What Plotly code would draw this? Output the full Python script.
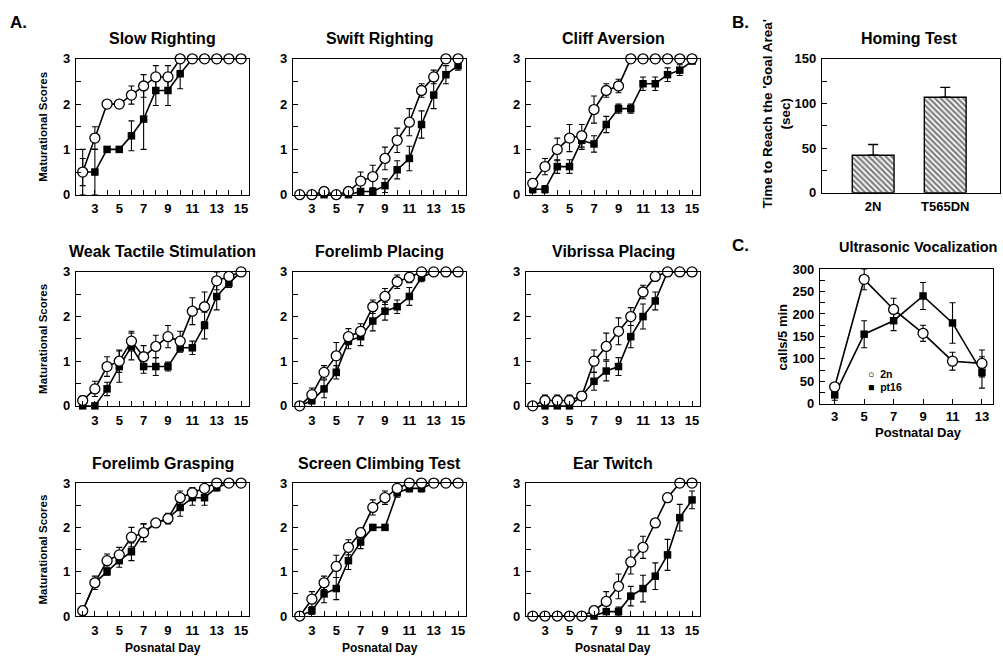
import plotly.graph_objects as go

# ---------------- data ----------------
days = list(range(2, 16))
day_ticks = list(range(2, 16))
day_labels = [str(d) if d % 2 else "" for d in day_ticks]
score_ticks = [0, 0.5, 1, 1.5, 2, 2.5, 3]
score_labels = ["0", "", "1", "", "2", "", "3"]

panel_titles = ["Slow Righting", "Swift Righting", "Cliff Aversion",
                "Weak Tactile Stimulation", "Forelimb Placing", "Vibrissa Placing",
                "Forelimb Grasping", "Screen Climbing Test", "Ear Twitch"]

slow_2n = [0.5, 1.25, 2.0, 2.0, 2.2, 2.4, 2.6, 2.6, 3, 3, 3, 3, 3, 3]
slow_2n_err = [0.3, 0.25, 0, 0, 0.2, 0.25, 0.25, 0.25, 0, 0, 0, 0, 0, 0]
slow_ts = [0.5, 0.5, 1.0, 1.0, 1.3, 1.67, 2.3, 2.3, 2.67, 3, 3, 3, 3, 3]
slow_ts_err = [0.5, 0.5, 0, 0, 0.33, 0.67, 0.33, 0.33, 0.33, 0, 0, 0, 0, 0]

swift_2n = [0, 0, 0.07, 0, 0.07, 0.3, 0.4, 0.8, 1.2, 1.6, 2.3, 2.6, 3.0, 3.0]
swift_2n_err = [0, 0, 0.07, 0, 0.07, 0.2, 0.25, 0.25, 0.27, 0.3, 0.15, 0.15, 0, 0]
swift_ts = [0, 0, 0, 0, 0, 0.07, 0.07, 0.2, 0.55, 0.8, 1.55, 2.2, 2.65, 2.85]
swift_ts_err = [0, 0, 0, 0, 0, 0, 0, 0.15, 0.2, 0.27, 0.3, 0.3, 0.2, 0.1]

cliff_2n = [0.25, 0.62, 1.0, 1.25, 1.3, 1.88, 2.3, 2.4, 3, 3, 3, 3, 3, 3]
cliff_2n_err = [0.1, 0.18, 0.25, 0.3, 0.25, 0.3, 0.15, 0.15, 0, 0, 0, 0, 0, 0]
cliff_ts = [0.12, 0.12, 0.62, 0.62, 1.2, 1.12, 1.55, 1.9, 1.9, 2.45, 2.45, 2.65, 2.75, 2.95]
cliff_ts_err = [0.08, 0.08, 0.15, 0.15, 0.2, 0.18, 0.18, 0.1, 0.1, 0.15, 0.15, 0.15, 0.12, 0.05]

tactile_2n = [0.12, 0.38, 0.88, 1.0, 1.45, 1.1, 1.33, 1.55, 1.45, 2.12, 2.22, 2.8, 2.9, 3.0]
tactile_2n_err = [0.1, 0.17, 0.22, 0.25, 0.22, 0.25, 0.25, 0.25, 0.22, 0.3, 0.33, 0.2, 0.1, 0]
tactile_ts = [0, 0, 0.38, 0.88, 1.33, 0.88, 0.88, 0.88, 1.3, 1.3, 1.8, 2.45, 2.75, 3.0]
tactile_ts_err = [0, 0, 0.15, 0.35, 0.3, 0.15, 0.2, 0.1, 0.1, 0.15, 0.3, 0.3, 0.1, 0]

placing_2n = [0, 0.25, 0.75, 1.12, 1.55, 1.67, 2.22, 2.45, 2.78, 2.88, 3, 3, 3, 3]
placing_2n_err = [0, 0.15, 0.15, 0.3, 0.18, 0.17, 0.15, 0.18, 0.15, 0.12, 0, 0, 0, 0]
placing_ts = [0, 0.12, 0.38, 0.75, 1.45, 1.55, 1.9, 2.12, 2.22, 2.45, 2.88, 3, 3, 3]
placing_ts_err = [0, 0.08, 0.2, 0.15, 0.17, 0.2, 0.22, 0.2, 0.15, 0.2, 0.1, 0, 0, 0]

vibrissa_2n = [0, 0.12, 0.12, 0.12, 0.22, 1.0, 1.33, 1.67, 2.0, 2.55, 2.9, 3, 3, 3]
vibrissa_2n_err = [0, 0.12, 0.12, 0.12, 0.1, 0.25, 0.3, 0.3, 0.2, 0.15, 0.1, 0, 0, 0]
vibrissa_ts = [0, 0, 0, 0, 0.22, 0.55, 0.78, 0.88, 1.55, 2.0, 2.35, 3, 3, 3]
vibrissa_ts_err = [0, 0, 0, 0, 0.1, 0.2, 0.22, 0.2, 0.25, 0.28, 0.2, 0, 0, 0]

grasp_2n = [0.12, 0.75, 1.25, 1.38, 1.78, 1.88, 2.1, 2.2, 2.67, 2.78, 2.88, 3, 3, 3]
grasp_2n_err = [0.1, 0.15, 0.15, 0.17, 0.22, 0.2, 0.08, 0.12, 0.15, 0.12, 0.08, 0, 0, 0]
grasp_ts = [0.12, 0.75, 1.0, 1.25, 1.45, 1.88, 2.1, 2.2, 2.45, 2.67, 2.67, 2.9, 3, 3]
grasp_ts_err = [0.05, 0.1, 0.08, 0.15, 0.2, 0.2, 0.05, 0.1, 0.2, 0.17, 0.17, 0.08, 0, 0]

climb_2n = [0, 0.38, 0.75, 1.12, 1.55, 1.88, 2.45, 2.67, 2.88, 3, 3, 3, 3, 3]
climb_2n_err = [0, 0.17, 0.15, 0.25, 0.17, 0.1, 0.17, 0.15, 0.08, 0, 0, 0, 0, 0]
climb_ts = [0, 0.12, 0.5, 0.62, 1.25, 1.67, 2.0, 2.0, 2.78, 2.88, 2.88, 3, 3, 3]
climb_ts_err = [0, 0.08, 0.2, 0.25, 0.2, 0.15, 0, 0, 0.1, 0.08, 0.08, 0, 0, 0]

ear_2n = [0, 0, 0, 0, 0, 0.12, 0.33, 0.67, 1.22, 1.55, 2.1, 2.67, 3.0, 3.0]
ear_2n_err = [0, 0, 0, 0, 0, 0.1, 0.22, 0.28, 0.27, 0.25, 0.1, 0.1, 0, 0]
ear_ts = [0, 0, 0, 0, 0, 0, 0.1, 0.1, 0.45, 0.62, 0.9, 1.38, 2.22, 2.62]
ear_ts_err = [0, 0, 0, 0, 0, 0, 0.05, 0.1, 0.22, 0.3, 0.3, 0.35, 0.3, 0.2]

homing_groups = ["2N", "T565DN"]
homing_time = [42, 107]
homing_err = [12, 11]

usv_days = [3, 5, 7, 9, 11, 13]
usv_2n = [38, 277, 210, 157, 95, 90]
usv_2n_err = [6, 23, 25, 18, 20, 30]
usv_pt16 = [20, 155, 185, 240, 180, 70]
usv_pt16_err = [12, 30, 22, 30, 45, 35]
usv_legend = ["\u25CB  2n", "\u25A0  pt16"]

# ---------------- layout geometry (pixels) ----------------
W, H = 1003, 669
FONT = "Liberation Sans"
col_px = [(76, 249), (293, 466), (526, 700)]
row_px = [(53, 192), (271, 408), (487, 623)]
title_y_px = [32, 250, 467]


def dom_x(a, b):
    return [a / W, b / W]


def dom_y(top, bottom):
    return [1 - bottom / H, 1 - top / H]


def label(text, px, py, size=12, angle=0, xanchor="center"):
    return dict(text="<b>%s</b>" % text, x=px / W, y=1 - py / H, xref="paper", yref="paper",
                xanchor=xanchor, yanchor="middle", textangle=angle, showarrow=False,
                font=dict(family=FONT, size=size, color="black"))


tickfont = dict(family=FONT, size=13, color="black", weight="bold")
axis_common = dict(showline=True, linecolor="black", linewidth=1.3, mirror=True,
                   showgrid=False, zeroline=False, ticks="inside", ticklen=5,
                   tickwidth=1, tickcolor="black", tickfont=tickfont,
                   ticklabelstandoff=2)

panel_data = [
    (slow_2n, slow_2n_err, slow_ts, slow_ts_err),
    (swift_2n, swift_2n_err, swift_ts, swift_ts_err),
    (cliff_2n, cliff_2n_err, cliff_ts, cliff_ts_err),
    (tactile_2n, tactile_2n_err, tactile_ts, tactile_ts_err),
    (placing_2n, placing_2n_err, placing_ts, placing_ts_err),
    (vibrissa_2n, vibrissa_2n_err, vibrissa_ts, vibrissa_ts_err),
    (grasp_2n, grasp_2n_err, grasp_ts, grasp_ts_err),
    (climb_2n, climb_2n_err, climb_ts, climb_ts_err),
    (ear_2n, ear_2n_err, ear_ts, ear_ts_err),
]

fig = go.Figure()
layout = {}
annotations = []

open_marker = dict(symbol="circle", size=10, color="white", line=dict(color="black", width=1.3))
filled_marker = dict(symbol="square", size=7.5, color="black", line=dict(color="black", width=0))
line_style = dict(color="black", width=1.6)


def err(arr):
    return dict(type="data", array=arr, visible=True, color="black", thickness=1.1, width=3)


for i, (a, ae, b, be) in enumerate(panel_data):
    r, c = divmod(i, 3)
    n = i + 1
    xs = "" if n == 1 else str(n)
    x0, x1 = col_px[c]
    y0, y1 = row_px[r]
    fig.add_trace(go.Scatter(x=days, y=b, mode="lines+markers", marker=filled_marker,
                             line=line_style, error_y=err(be), cliponaxis=False,
                             showlegend=False, xaxis="x" + xs, yaxis="y" + xs))
    fig.add_trace(go.Scatter(x=days, y=a, mode="lines+markers", marker=open_marker,
                             line=line_style, error_y=err(ae), cliponaxis=False,
                             showlegend=False, xaxis="x" + xs, yaxis="y" + xs))
    layout["xaxis" + xs] = dict(axis_common, domain=dom_x(x0, x1), anchor="y" + xs,
                                range=[1.45, 15.65], tickvals=day_ticks, ticktext=day_labels)
    layout["yaxis" + xs] = dict(axis_common, domain=dom_y(y0, y1), anchor="x" + xs,
                                range=[0, 3], tickvals=score_ticks, ticktext=score_labels)
    annotations.append(label(panel_titles[i], (x0 + x1) / 2, title_y_px[r], size=16))
    if c == 0:
        annotations.append(label("Maturational Scores", 43, (y0 + y1) / 2, size=11.5, angle=-90))
    if r == 2:
        annotations.append(label("Posnatal Day", (x0 + x1) / 2, 656))

# ---------------- B: homing test ----------------
fig.add_trace(go.Bar(x=homing_groups, y=homing_time, width=0.58,
                     marker=dict(color="white", line=dict(color="black", width=1.4),
                                 pattern=dict(shape="\\", fgcolor="black", bgcolor="white",
                                              size=4, solidity=0.55)),
                     error_y=dict(type="data", array=homing_err, arrayminus=[0, 0],
                                  symmetric=False, color="black", thickness=1.3, width=5),
                     showlegend=False, xaxis="x10", yaxis="y10"))
layout["xaxis10"] = dict(axis_common, domain=dom_x(822, 1000), anchor="y10",
                         range=[-0.71, 1.76], ticks="", type="category")
layout["yaxis10"] = dict(axis_common, domain=dom_y(53, 190), anchor="x10", range=[0, 150],
                         tickvals=[0, 25, 50, 75, 100, 125, 150],
                         ticktext=["0", "", "50", "", "100", "", "150"])
annotations.append(label("Homing Test", 909, 32, size=16))
annotations.append(label("Time to Reach the 'Goal Area'<br>(sec)", 777, 110, size=13.5,
                         angle=-90))

# ---------------- C: ultrasonic vocalization ----------------
fig.add_trace(go.Scatter(x=usv_days, y=usv_pt16, mode="lines+markers", marker=filled_marker,
                         line=line_style, error_y=err(usv_pt16_err), cliponaxis=False,
                         showlegend=False, xaxis="x11", yaxis="y11"))
fig.add_trace(go.Scatter(x=usv_days, y=usv_2n, mode="lines+markers", marker=open_marker,
                         line=line_style, error_y=err(usv_2n_err), cliponaxis=False,
                         showlegend=False, xaxis="x11", yaxis="y11"))
layout["xaxis11"] = dict(axis_common, domain=dom_x(820, 993), anchor="y11", range=[2.0, 13.75],
                         tickvals=usv_days, ticktext=[str(d) for d in usv_days],
                         ticklabelstandoff=0)
layout["yaxis11"] = dict(axis_common, domain=dom_y(268, 406), anchor="x11", range=[0, 300],
                         tickvals=list(range(0, 301, 25)),
                         ticktext=[str(v) if v % 50 == 0 else "" for v in range(0, 301, 25)])
annotations.append(label("Ultrasonic Vocalization", 918, 245, size=14.5))
annotations.append(label("calls/5 min", 782, 338, size=13, angle=-90))
annotations.append(label("Postnatal Day", 918, 435, size=13))
annotations.append(label(usv_legend[0], 866, 375, size=10.5, xanchor="left"))
annotations.append(label(usv_legend[1], 866, 389, size=10.5, xanchor="left"))

# panel letters
for letter, px, py in [("A.", 18, 16), ("B.", 740, 16), ("C.", 740, 244)]:
    annotations.append(label(letter, px, py, size=17))

fig.update_layout(
    width=W, height=H, margin=dict(l=0, r=0, t=0, b=0),
    paper_bgcolor="white", plot_bgcolor="white",
    annotations=annotations, showlegend=False,
    **layout,
)

fig.write_html("out.html")
